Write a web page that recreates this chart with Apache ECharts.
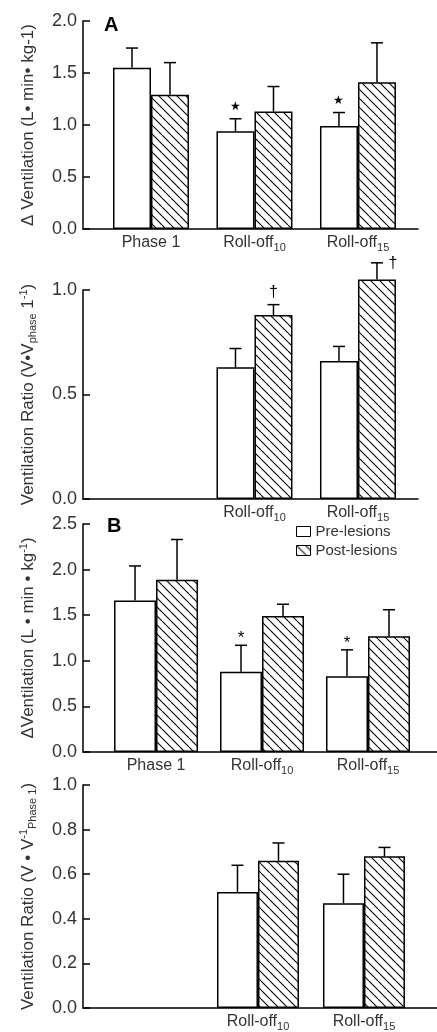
<!DOCTYPE html>
<html>
<head>
<meta charset="utf-8">
<script src="https://cdn.jsdelivr.net/npm/echarts@6/dist/echarts.min.js"></script>
<style>
  html, body { margin: 0; padding: 0; background: #fff; }
  #chart { width: 437px; height: 1032px; }
</style>
</head>
<body>
<div id="chart"></div>
<script>
// categories sit at x = 1, 2, 3 on each panel's value axis
const categories = ['Phase 1', 'Roll-off{sub|10}', 'Roll-off{sub|15}'];
const allIdx = [1, 2, 3];
const rollIdx = [2, 3];

// A - delta ventilation
const ventAPre = [1.55, 0.94, 0.99];
const ventAPreSem = [0.19, 0.12, 0.13];
const ventAPost = [1.29, 1.13, 1.41];
const ventAPostSem = [0.31, 0.24, 0.38];
const ventAPreMark = ['', '★', '★'];
const ventAPostMark = ['', '', ''];

// A - ventilation ratio (roll-off only)
const ratioAPre = [0.63, 0.66];
const ratioAPreSem = [0.09, 0.07];
const ratioAPost = [0.88, 1.05];
const ratioAPostSem = [0.05, 0.08];
const ratioAPreMark = ['', ''];
const ratioAPostMark = ['†', '†'];

// B - delta ventilation
const ventBPre = [1.66, 0.88, 0.83];
const ventBPreSem = [0.38, 0.29, 0.29];
const ventBPost = [1.89, 1.49, 1.27];
const ventBPostSem = [0.44, 0.13, 0.29];
const ventBPreMark = ['', '*', '*'];
const ventBPostMark = ['', '', ''];

// B - ventilation ratio
const ratioBPre = [0.52, 0.47];
const ratioBPreSem = [0.12, 0.13];
const ratioBPost = [0.66, 0.68];
const ratioBPostSem = [0.08, 0.04];
const ratioBPreMark = ['', ''];
const ratioBPostMark = ['', ''];

const FONT = '"Liberation Sans", Arial, sans-serif';
const TXT = '#333';

// diagonal hatch for post-lesion bars
function makeHatch() {
  const s = 9;
  const c = document.createElement('canvas');
  c.width = s; c.height = s;
  const g = c.getContext('2d');
  g.fillStyle = '#fff';
  g.fillRect(0, 0, s, s);
  g.strokeStyle = '#000';
  g.lineWidth = 1.1;
  [-s, 0, s].forEach(k => {
    g.beginPath(); g.moveTo(k, 0); g.lineTo(k + s, s); g.stroke();
  });
  return c;
}
const hatchFill = { image: makeHatch(), repeat: 'repeat' };

const subRich = {
  sub: { fontSize: 11, lineHeight: 10, verticalAlign: 'bottom', fontFamily: FONT, color: TXT },
  sup: { fontSize: 11, lineHeight: 10, verticalAlign: 'top', fontFamily: FONT, color: TXT }
};

const panels = [
  { top: 21, height: 208, right: 19, xMin: 0.343, xMax: 3.58, yMax: 2, yStep: 0.5, bw: 38,
    name: 'Δ Ventilation (L• min• kg-1)', idx: allIdx,
    pre: ventAPre, preSem: ventAPreSem, post: ventAPost, postSem: ventAPostSem,
    preMark: ventAPreMark, postMark: ventAPostMark },
  { top: 290, height: 209, right: 19, xMin: 0.343, xMax: 3.58, yMax: 1, yStep: 0.5, bw: 38,
    name: 'Ventilation Ratio (V•V{sub|phase} 1{sup|-1})', idx: rollIdx,
    pre: ratioAPre, preSem: ratioAPreSem, post: ratioAPost, postSem: ratioAPostSem,
    preMark: ratioAPreMark, postMark: ratioAPostMark },
  { top: 524, height: 228, right: 0, xMin: 0.311, xMax: 3.651, yMax: 2.5, yStep: 0.5, bw: 42,
    name: 'ΔVentilation (L • min • kg{sup|-1})', idx: allIdx,
    pre: ventBPre, preSem: ventBPreSem, post: ventBPost, postSem: ventBPostSem,
    preMark: ventBPreMark, postMark: ventBPostMark },
  { top: 785, height: 226, right: 0, xMin: 0.349, xMax: 3.689, yMax: 1, yStep: 0.2, bw: 41,
    name: 'Ventilation Ratio (V • V{sup|-1}{sub|Phase 1})', idx: rollIdx,
    pre: ratioBPre, preSem: ratioBPreSem, post: ratioBPost, postSem: ratioBPostSem,
    preMark: ratioBPreMark, postMark: ratioBPostMark }
];

const markFont = { '★': 12, '*': 17, '†': 16 };

// error bar (upward only) with optional significance mark
function errorBars(side, bw, marks, gridTop) {
  return function (params, api) {
    const j = params.dataIndex;
    const xv = api.value(0), yv = api.value(1), sem = api.value(2);
    const base = api.coord([xv, yv]);
    const tip = api.coord([xv, yv + sem]);
    const cx = base[0] + side * bw / 2;
    const ls = { stroke: '#000', lineWidth: 1.5 };
    const children = [
      { type: 'line', shape: { x1: cx, y1: base[1], x2: cx, y2: tip[1] }, style: ls },
      { type: 'line', shape: { x1: cx - 6, y1: tip[1], x2: cx + 6, y2: tip[1] }, style: ls }
    ];
    const m = marks[j];
    if (m) {
      let mx = cx, my = tip[1] - 12;
      if (my < gridTop - 10) { mx = cx + 16; my = tip[1] + 1; }
      if (m === '*') my += 5;
      children.push({
        type: 'text', x: mx, y: my,
        style: { text: m, align: 'center', verticalAlign: 'middle',
                 fontSize: markFont[m], fontFamily: FONT, fill: '#000' }
      });
    }
    return { type: 'group', children };
  };
}

const grid = [], xAxis = [], yAxis = [], series = [];
panels.forEach((p, i) => {
  grid.push({ left: 83, right: p.right, top: p.top, height: p.height });
  xAxis.push({
    gridIndex: i, type: 'value', min: p.xMin, max: p.xMax,
    axisLine: { show: true, onZero: false, lineStyle: { color: '#000', width: 1.5 } },
    axisTick: { show: false }, splitLine: { show: false },
    axisLabel: {
      customValues: p.idx, formatter: v => categories[Math.round(v) - 1],
      fontSize: 16, lineHeight: 20, color: TXT, fontFamily: FONT, margin: 4, rich: subRich
    }
  });
  yAxis.push({
    gridIndex: i, type: 'value', min: 0, max: p.yMax, interval: p.yStep,
    name: p.name, nameLocation: 'middle', nameRotate: 90, nameGap: 45,
    nameTextStyle: { fontSize: 17, lineHeight: 20, color: TXT, fontFamily: FONT, rich: subRich },
    axisLine: { show: true, lineStyle: { color: '#000', width: 1.5 } },
    axisTick: { show: true, inside: true, length: 7, lineStyle: { color: '#000', width: 1.5 } },
    axisLabel: { fontSize: 18, color: TXT, fontFamily: FONT, margin: 6, formatter: v => v.toFixed(1) },
    splitLine: { show: false }
  });
  const common = { type: 'bar', xAxisIndex: i, yAxisIndex: i, barWidth: p.bw, barGap: '0%',
                   clip: false, silent: true };
  series.push(Object.assign({}, common, {
    name: 'Pre-lesions',
    itemStyle: { color: '#fff', borderColor: '#000', borderWidth: 1.5 },
    data: p.idx.map((x, j) => [x, p.pre[j]])
  }));
  series.push(Object.assign({}, common, {
    name: 'Post-lesions',
    itemStyle: { color: hatchFill, borderColor: '#000', borderWidth: 1.5 },
    data: p.idx.map((x, j) => [x, p.post[j]])
  }));
  series.push({
    type: 'custom', xAxisIndex: i, yAxisIndex: i, silent: true, z: 3,
    renderItem: errorBars(-1, p.bw, p.preMark, p.top),
    encode: { x: 0, y: 1 },
    data: p.idx.map((x, j) => [x, p.pre[j], p.preSem[j]])
  });
  series.push({
    type: 'custom', xAxisIndex: i, yAxisIndex: i, silent: true, z: 3,
    renderItem: errorBars(1, p.bw, p.postMark, p.top),
    encode: { x: 0, y: 1 },
    data: p.idx.map((x, j) => [x, p.post[j], p.postSem[j]])
  });
});

const chart = echarts.init(document.getElementById('chart'));
chart.setOption({
  animation: false,
  backgroundColor: '#fff',
  title: [
    { text: 'A', left: 104, top: 15, padding: 0,
      textStyle: { fontSize: 20, fontWeight: 'bold', color: '#000', fontFamily: FONT } },
    { text: 'B', left: 107, top: 516, padding: 0,
      textStyle: { fontSize: 20, fontWeight: 'bold', color: '#000', fontFamily: FONT } }
  ],
  legend: {
    data: ['Pre-lesions', 'Post-lesions'], orient: 'vertical', left: 296, top: 524, padding: 0,
    itemWidth: 14, itemHeight: 10, itemGap: 4, icon: 'rect', selectedMode: false,
    itemStyle: { borderColor: '#000', borderWidth: 1 },
    textStyle: { fontSize: 15, color: TXT, fontFamily: FONT }
  },
  grid, xAxis, yAxis, series
});
</script>
</body>
</html>
